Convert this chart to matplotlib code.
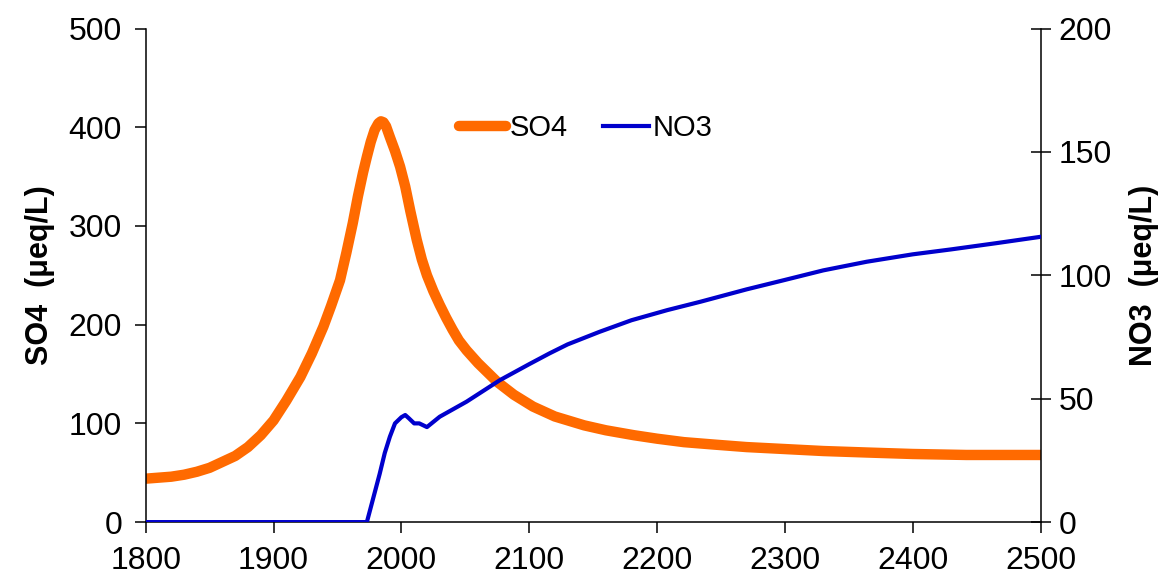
import matplotlib
matplotlib.use('Agg')
import matplotlib.pyplot as plt

plt.rcParams['font.family'] = ['Liberation Sans', 'DejaVu Sans']

# SO4 (left axis)
so4_years = [1800, 1810, 1820, 1830, 1840, 1850, 1860, 1870, 1880, 1890, 1900,
             1910, 1921, 1930, 1939, 1945, 1952, 1957, 1962, 1966, 1970, 1973,
             1976, 1979, 1982, 1984, 1986, 1988, 1991, 1995, 1999, 2003, 2007,
             2012, 2016, 2020, 2025, 2030, 2035, 2040, 2045, 2051, 2060, 2075,
             2088, 2103, 2120, 2143, 2160, 2182, 2200, 2221, 2245, 2270, 2300,
             2330, 2364, 2400, 2442, 2500]
so4 = [44, 45, 46, 48, 51, 55, 61, 67, 76, 88, 103,
       123, 147, 171, 198, 219, 245, 273, 303, 330, 354, 370,
       385, 397, 404, 406, 405, 401, 390, 376, 360, 340, 315,
       286, 266, 250, 234, 220, 207, 195, 184, 174, 161, 142,
       129, 117, 107, 98, 93, 88, 84.5, 81, 78.5, 76, 74,
       72, 70.5, 69, 68, 68]

# NO3 (right axis)
no3_years = [1800, 1973, 1983, 1987, 1991, 1995, 2000, 2003, 2006, 2010, 2014,
             2020, 2030, 2051, 2077, 2100, 2116, 2130, 2155, 2180, 2208, 2234,
             2270, 2299, 2330, 2364, 2400, 2430, 2465, 2500]
no3 = [0, 0, 19.5, 28, 34.6, 40, 42.5, 43.4, 42, 40, 40,
       38.5, 42.7, 48.8, 57.5, 64, 68.4, 72, 77.1, 81.8, 85.9, 89.3,
       94.3, 98, 102, 105.5, 108.5, 110.5, 113, 115.6]

so4_color = '#ff6a00'
no3_color = '#0000cc'

fig = plt.figure(figsize=(11.75, 5.75), dpi=100)
ax = fig.add_axes([0.124, 0.092, 0.7616, 0.8584])
ax2 = ax.twinx()

l1, = ax.plot(so4_years, so4, color=so4_color, lw=7.5, solid_capstyle='round',
              solid_joinstyle='round', label='SO4', zorder=2)
l2, = ax2.plot(no3_years, no3, color=no3_color, lw=3, label='NO3', zorder=3)

ax.set_xlim(1800, 2500)
ax.set_ylim(0, 500)
ax2.set_ylim(0, 200)
ax.set_xticks(range(1800, 2501, 100))
ax.set_yticks(range(0, 501, 100))
ax2.set_yticks(range(0, 201, 50))

for a in (ax, ax2):
    a.spines['top'].set_visible(False)
    for s in a.spines.values():
        s.set_linewidth(1.1)
ax.spines['right'].set_visible(False)
ax2.spines['left'].set_visible(False)
ax2.spines['bottom'].set_visible(False)

ax.tick_params(axis='both', labelsize=23, width=1.1, length=8, direction='out', pad=9)
ax2.tick_params(axis='y', labelsize=23, width=1.1, length=14, direction='inout', pad=6)

ax.set_ylabel('SO4  (\u03bceq/L)', fontsize=22, fontweight='bold', labelpad=10)
ax2.set_ylabel('NO3  (\u03bceq/L)', fontsize=22, fontweight='bold', labelpad=12)

ax.legend([l1, l2], ['SO4', 'NO3'], loc='center', bbox_to_anchor=(0.492, 0.798),
          ncol=2, frameon=False, fontsize=21, handlelength=1.6,
          handletextpad=0.12, columnspacing=1.2)

fig.savefig('out.png', dpi=100)
